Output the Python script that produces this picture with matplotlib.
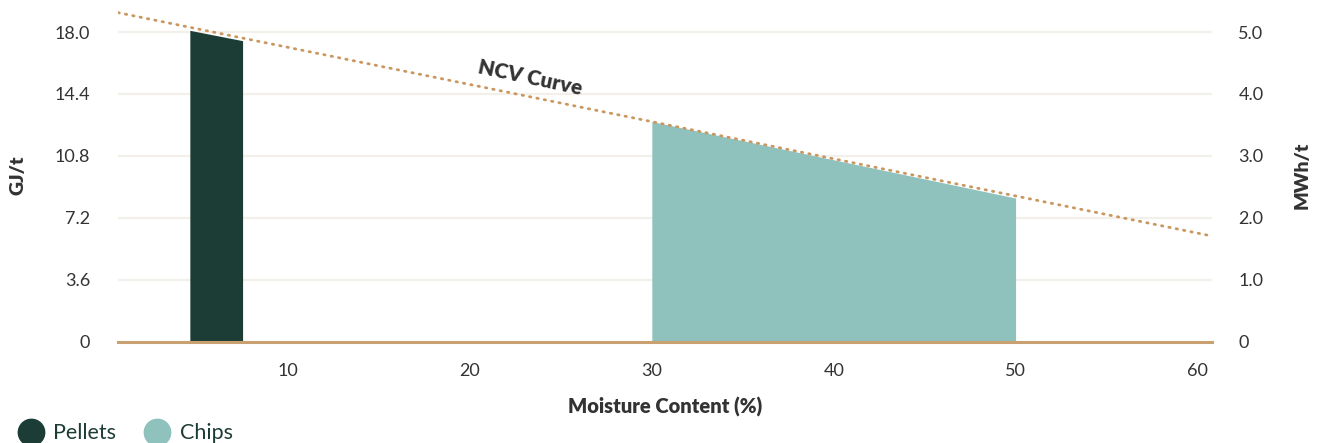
import matplotlib
matplotlib.use("Agg")
import matplotlib.pyplot as plt
from matplotlib.lines import Line2D

# Net calorific value vs moisture content
moisture_ticks = [10, 20, 30, 40, 50, 60]
gj_ticks = [0, 3.6, 7.2, 10.8, 14.4, 18.0]
gj_tick_labels = ["0", "3.6", "7.2", "10.8", "14.4", "18.0"]
mwh_ticks = [0, 1.0, 2.0, 3.0, 4.0, 5.0]
mwh_tick_labels = ["0", "1.0", "2.0", "3.0", "4.0", "5.0"]

ncv_moisture = [0.65, 60.8]
ncv_gj = [19.13, 6.14]

pellets_moisture = [4.6, 7.5]
pellets_gj = [18.1, 17.5]

chips_moisture = [30.0, 50.0]
chips_gj = [12.8, 8.35]

PELLET_COLOR = "#1c3d35"
CHIP_COLOR = "#8fc1bd"
CURVE_COLOR = "#c9975f"
AXIS_COLOR = "#c9a06f"
GRID_COLOR = "#f3efea"
TEXT_COLOR = "#333333"

plt.rcParams["font.family"] = ["Lato", "DejaVu Sans"]

fig = plt.figure(figsize=(13.21, 4.43), dpi=100)
ax = fig.add_axes([118 / 1321, 0.2287, (1212 - 118) / 1321, 0.7494])

xlim = (0.65, 60.8)
gj_max = 19.3
ax.set_xlim(*xlim)
ax.set_ylim(0, gj_max)

# grid
for v in gj_ticks[1:]:
    ax.axhline(v, color=GRID_COLOR, lw=1.6, zorder=0)
ax.axhline(0, color=AXIS_COLOR, lw=2.2, zorder=4, clip_on=False)

# filled regions under the NCV curve
ax.fill_between(pellets_moisture, 0, pellets_gj, color=PELLET_COLOR, lw=0, zorder=2)
ax.fill_between(chips_moisture, 0, chips_gj, color=CHIP_COLOR, lw=0, zorder=2)

# NCV dotted line
ax.plot(ncv_moisture, ncv_gj, color=CURVE_COLOR, lw=2.0,
        linestyle=(0, (0.5, 2.2)), dash_capstyle="round", zorder=3)

ax.text(23.3, 15.35, "NCV Curve", rotation=-12, ha="center", va="center",
        rotation_mode="anchor", fontsize=15, fontweight="heavy",
        color=TEXT_COLOR)

for s in ax.spines.values():
    s.set_visible(False)

ax.set_xticks(moisture_ticks)
ax.set_xticklabels([str(t) for t in moisture_ticks])
ax.set_yticks(gj_ticks)
ax.set_yticklabels(gj_tick_labels)
ax.tick_params(axis="both", length=0, labelsize=13, labelcolor=TEXT_COLOR)
ax.tick_params(axis="y", pad=20)
ax.tick_params(axis="x", pad=15)

ax.set_xlabel("Moisture Content (%)", fontsize=14.5, fontweight="heavy",
              color=TEXT_COLOR, labelpad=13)
ax.set_ylabel("GJ/t", fontsize=14, fontweight="heavy", color=TEXT_COLOR,
              labelpad=20)

ax2 = ax.twinx()
ax2.set_ylim(0, gj_max * 5.0 / 18.0)
ax2.set_yticks(mwh_ticks)
ax2.set_yticklabels(mwh_tick_labels)
ax2.tick_params(axis="y", length=0, labelsize=13, labelcolor=TEXT_COLOR, pad=19)
for s in ax2.spines.values():
    s.set_visible(False)
ax2.set_ylabel("MWh/t", fontsize=14, fontweight="heavy", color=TEXT_COLOR,
               labelpad=22, rotation=90)

handles = [
    Line2D([], [], marker="o", linestyle="none", markersize=19,
           markerfacecolor=PELLET_COLOR, markeredgecolor=PELLET_COLOR),
    Line2D([], [], marker="o", linestyle="none", markersize=19,
           markerfacecolor=CHIP_COLOR, markeredgecolor=CHIP_COLOR),
]
leg = fig.legend(handles, ["Pellets", "Chips"], loc="center left",
                 bbox_to_anchor=(0.002, 0.022), ncol=2, frameon=False,
                 fontsize=15.5, handletextpad=0.05, columnspacing=0.9,
                 borderaxespad=0, borderpad=0.3)
for t in leg.get_texts():
    t.set_color(PELLET_COLOR)

fig.savefig("out.png", dpi=100)
